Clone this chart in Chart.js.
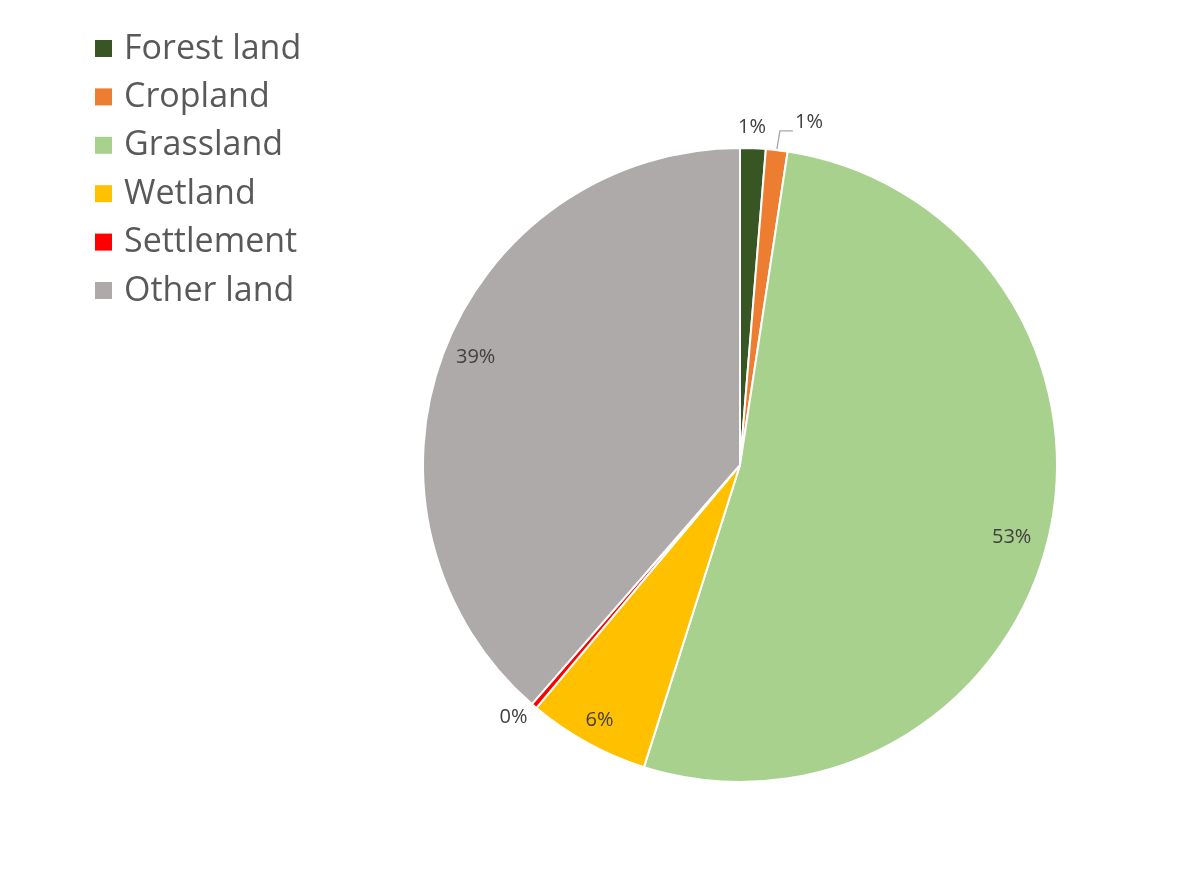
<!DOCTYPE html>
<html>
<head>
<meta charset="utf-8">
<script src="https://cdn.jsdelivr.net/npm/chart.js@4.4.0/dist/chart.umd.min.js"></script>
<style>
  body { margin: 0; background: #fff; }
  #wrap { width: 1200px; height: 872px; }
</style>
</head>
<body>
<div id="wrap"><canvas id="Usos" width="1200" height="872"></canvas></div>
<script>
const categorias = ['Forest land', 'Cropland', 'Grassland', 'Wetland', 'Settlement', 'Other land'];
const porcentajes = [1.3, 1.1, 52.5, 6.2, 0.3, 38.6];
const colores = ['#375623', '#ED7D31', '#A9D18E', '#FFC000', '#FF0000', '#AEAAAA'];

// where each label sits: fraction of radius, angle shift in degrees
const posEtiquetas = [
  { r: 1.067, da: -0.3 },
  { r: 1.104, da: 4.7 },
  { r: 0.887, da: 1.8 },
  { r: 0.92, da: 0 },
  { r: 1.07, da: 1.4 },
  { r: 0.90, da: 1.6 }
];

const etiquetas = {
  id: 'etiquetas',
  afterDatasetsDraw(chart) {
    const ctx = chart.ctx;
    const meta = chart.getDatasetMeta(0);
    const datos = chart.data.datasets[0].data;
    const total = datos.reduce((a, b) => a + b, 0);
    ctx.save();
    ctx.font = '20px "Open Sans"';
    ctx.textAlign = 'center';
    ctx.textBaseline = 'middle';
    meta.data.forEach((arc, i) => {
      const p = arc.getProps(['x', 'y', 'startAngle', 'endAngle', 'outerRadius'], true);
      const mid = (p.startAngle + p.endAngle) / 2;
      const ang = mid + posEtiquetas[i].da * Math.PI / 180;
      const lx = p.x + Math.cos(ang) * p.outerRadius * posEtiquetas[i].r;
      const ly = p.y + Math.sin(ang) * p.outerRadius * posEtiquetas[i].r;
      const txt = Math.round(datos[i] / total * 100) + '%';
      if (i === 1) {
        // linea guia del cropland
        const ex = p.x + Math.cos(mid) * (p.outerRadius + 1);
        const ey = p.y + Math.sin(mid) * (p.outerRadius + 1);
        const w = ctx.measureText(txt).width;
        ctx.strokeStyle = '#A6A6A6';
        ctx.lineWidth = 1.3;
        ctx.beginPath();
        ctx.moveTo(ex, ey);
        ctx.lineTo(ex + 3, ly + 9);
        ctx.lineTo(lx - w / 2 - 2, ly + 9);
        ctx.stroke();
      }
      ctx.fillStyle = '#404040';
      ctx.fillText(txt, lx, ly);
    });
    ctx.restore();
  }
};

const leyenda = {
  id: 'leyenda',
  afterDraw(chart) {
    const ctx = chart.ctx;
    const ds = chart.data.datasets[0];
    ctx.save();
    ctx.font = '34px "Open Sans"';
    ctx.textBaseline = 'middle';
    chart.data.labels.forEach((lab, i) => {
      const y = 48 + i * 48.4;
      ctx.fillStyle = ds.backgroundColor[i];
      ctx.fillRect(95, y - 8, 17, 17);
      ctx.fillStyle = '#595959';
      ctx.fillText(lab, 124, y + 1);
    });
    ctx.restore();
  }
};

function graficar() {
  const ctx = document.getElementById('Usos');
  new Chart(ctx, {
    type: 'pie',
    data: {
      labels: categorias,
      datasets: [{
        data: porcentajes,
        backgroundColor: colores,
        borderColor: '#ffffff',
        borderWidth: 2
      }]
    },
    options: {
      responsive: false,
      animation: false,
      layout: { padding: { top: 147, bottom: 89, left: 300, right: 20 } },
      plugins: {
        legend: { display: false },
        tooltip: { enabled: false }
      }
    },
    plugins: [etiquetas, leyenda]
  });
}

document.fonts.load('34px "Open Sans"').then(graficar, graficar);
</script>
</body>
</html>
